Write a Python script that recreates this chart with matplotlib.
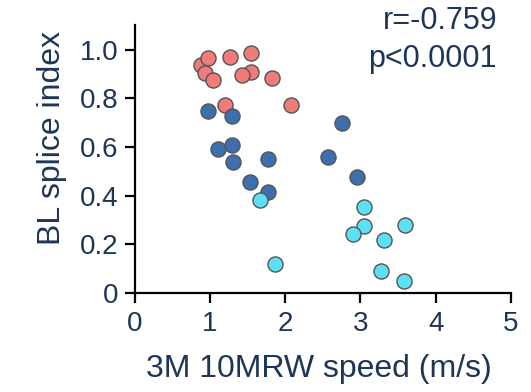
import matplotlib
matplotlib.use('Agg')
import matplotlib.pyplot as plt

plt.rcParams['font.family'] = ['Liberation Sans', 'DejaVu Sans']

textColor = '#1d3557'

# speed (m/s) vs splice index, three groups
redX = [0.88, 0.97, 0.93, 1.04, 1.26, 1.54, 1.55, 1.42, 1.82, 1.20, 2.07]
redY = [0.938, 0.967, 0.905, 0.877, 0.971, 0.988, 0.909, 0.897, 0.885, 0.774, 0.774]
blueX = [0.97, 1.29, 1.10, 1.29, 1.30, 1.77, 1.53, 1.77, 2.57, 2.95, 2.75]
blueY = [0.749, 0.728, 0.590, 0.610, 0.538, 0.549, 0.454, 0.413, 0.558, 0.475, 0.700]
cyanX = [1.67, 1.87, 3.05, 3.05, 2.90, 3.59, 3.31, 3.27, 3.58]
cyanY = [0.381, 0.118, 0.355, 0.277, 0.243, 0.280, 0.217, 0.091, 0.049]

xTicks = [0, 1, 2, 3, 4, 5]
yTicks = [0, 0.2, 0.4, 0.6, 0.8, 1.0]
yTickLabels = ['0', '0.2', '0.4', '0.6', '0.8', '1.0']

fig = plt.figure(figsize=(5.31, 3.92), dpi=100)
ax = fig.add_axes([0.254, 0.2526, 0.708, 0.683])

for xs, ys, col in [(redX, redY, '#ef7b7b'), (blueX, blueY, '#3e6fad'), (cyanX, cyanY, '#5de0f3')]:
    ax.scatter(xs, ys, s=118, c=col, edgecolors='#555555', linewidths=1.0, zorder=3, clip_on=False)

ax.set_xlim(0, 5)
ax.set_ylim(0, 1.1)
ax.set_xticks(xTicks)
ax.set_yticks(yTicks)
ax.set_yticklabels(yTickLabels)

for side in ['top', 'right']:
    ax.spines[side].set_visible(False)
for side in ['left', 'bottom']:
    ax.spines[side].set_linewidth(1.6)
    ax.spines[side].set_color('black')

ax.tick_params(axis='both', direction='out', length=7, width=1.6, color='black',
               labelsize=20, labelcolor=textColor)
ax.tick_params(axis='x', pad=6)
ax.tick_params(axis='y', pad=5)

ax.set_xlabel('3M 10MRW speed (m/s)', fontsize=23, color=textColor)
ax.set_ylabel('BL splice index', fontsize=23, color=textColor)
ax.xaxis.set_label_coords(0.489, -0.228)
ax.yaxis.set_label_coords(-0.181, 0.578)

fig.text(0.936, 0.926, 'r=-0.759', fontsize=22, color=textColor, ha='right', va='baseline')
fig.text(0.936, 0.829, 'p<0.0001', fontsize=22, color=textColor, ha='right', va='baseline')

fig.savefig('out.png', dpi=100)
